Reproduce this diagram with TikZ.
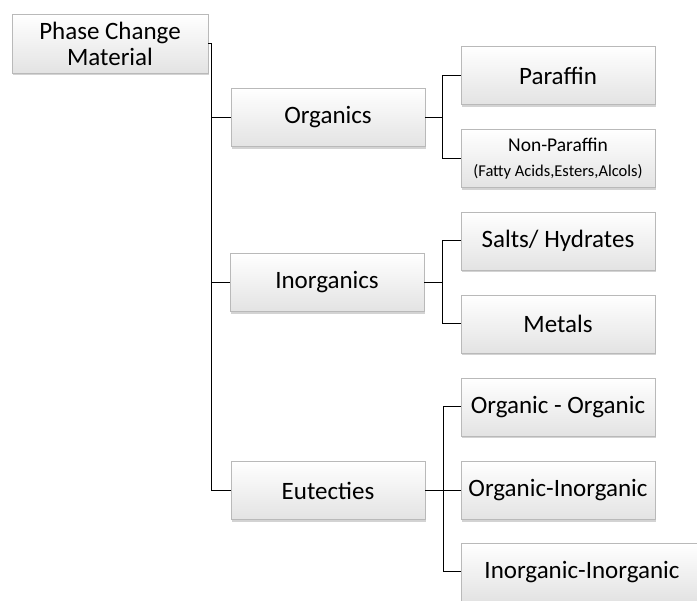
\documentclass[tikz,border=0pt]{standalone}
\usepackage{fontspec}
\setmainfont{Carlito}
\usetikzlibrary{shadows}
\tikzset{
  box/.style={draw=gray!55, line width=0.6pt, top color=white, bottom color=gray!22,
    minimum width=194pt, minimum height=58pt, inner sep=2pt, align=center,
    font=\fontsize{25}{26}\selectfont,
    drop shadow={shadow xshift=1pt, shadow yshift=-2.5pt, opacity=0.35, fill=gray}},
  link/.style={draw=black, line width=1pt}
}
\begin{document}
\begin{tikzpicture}[x=1pt,y=-1pt]
\useasboundingbox (0,0) rectangle (697,601);
\node[box, minimum width=196pt, minimum height=59pt] (pcm) at (110,43.5) {Phase Change\\Material};
\node[box] (org) at (328,117.5) {Organics};
\node[box] (inorg) at (327,282.5) {Inorganics};
\node[box] (eut) at (328,490.5) {Eutecties};
\node[box] (par) at (558,75.5) {Paraffin};
\node[box] (npar) at (558,158.5) {{\fontsize{19.5}{21}\selectfont Non-Paraffin}\\[-1pt]{\fontsize{16.5}{18}\selectfont (Fatty Acids,Esters,Alcols)}};
\node[box] (salt) at (558,241) {Salts/ Hydrates};
\node[box] (met) at (558,324) {Metals};
\node[box] (oo) at (558,407) {Organic - Organic};
\node[box] (oi) at (558,490.5) {Organic-Inorganic};
\node[box, minimum width=242pt] (ii) at (582,572) {Inorganic-Inorganic};
\coordinate (t0) at (211,43.5);
\draw[link] (pcm.east) -- (t0) -- (t0 |- eut.west) -- (eut.west);
\draw[link] (t0 |- org.west) -- (org.west);
\draw[link] (t0 |- inorg.west) -- (inorg.west);
\coordinate (b1) at (442,117.5);
\draw[link] (org.east) -- (b1);
\draw[link] (par.west) -- (b1 |- par.west) -- (b1 |- npar.west) -- (npar.west);
\coordinate (b2) at (442,282.5);
\draw[link] (inorg.east) -- (b2);
\draw[link] (salt.west) -- (b2 |- salt.west) -- (b2 |- met.west) -- (met.west);
\coordinate (b3) at (443,490.5);
\draw[link] (eut.east) -- (b3);
\draw[link] (oo.west) -- (b3 |- oo.west) -- (b3 |- ii.west) -- (ii.west);
\draw[link] (b3) -- (oi.west);
\end{tikzpicture}
\end{document}
